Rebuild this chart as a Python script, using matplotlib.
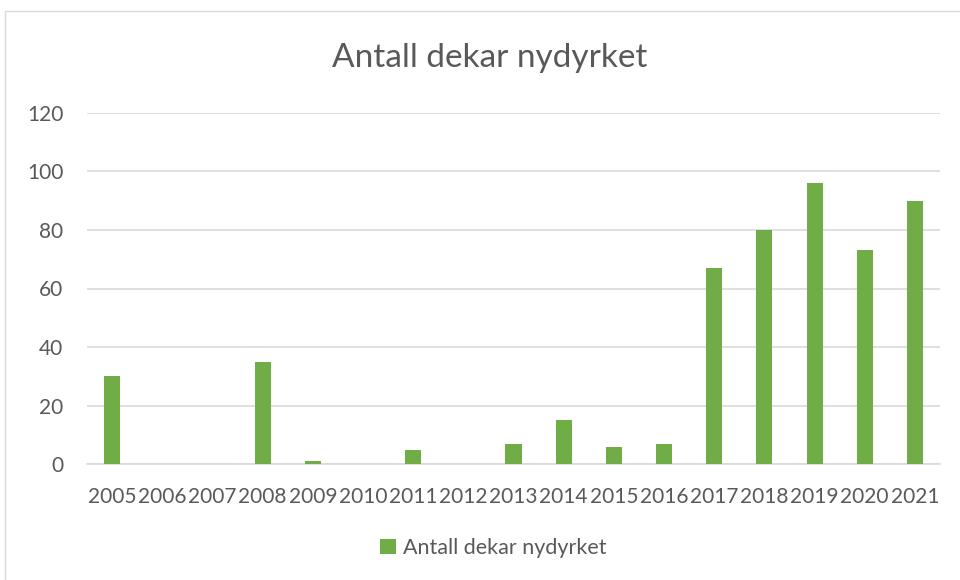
import matplotlib.pyplot as plt
from matplotlib.patches import Rectangle

years = ['2005', '2006', '2007', '2008', '2009', '2010', '2011', '2012', '2013',
         '2014', '2015', '2016', '2017', '2018', '2019', '2020', '2021']
dekar = [30, 0, 0, 35, 1, 0, 5, 0, 7, 15, 6, 7, 67, 80, 96, 73, 90]
series_name = 'Antall dekar nydyrket'

bar_color = '#70ad47'
text_color = '#595959'
grid_color = '#d9d9d9'

plt.rcParams['font.family'] = ['Lato', 'DejaVu Sans']

W, H = 960, 580
fig = plt.figure(figsize=(W / 100, H / 100), dpi=100)

# chart area border
fig.patches.append(Rectangle((5 / W, -0.01), 1.2, (H - 11) / H + 0.01,
                             transform=fig.transFigure, fill=False,
                             edgecolor='#d9d9d9', linewidth=1))

ax = fig.add_axes([87 / W, (H - 464.3) / H, (940 - 87) / W, (464.3 - 112.7) / H])
x = range(len(years))
ax.bar(x, dekar, width=0.32, color=bar_color, label=series_name, zorder=3)

ax.set_xlim(-0.5, len(years) - 0.5)
ax.set_ylim(0, 120)
ax.set_yticks(range(0, 121, 20))
ax.set_xticks(list(x))
ax.set_xticklabels(years)
ax.yaxis.grid(True, color=grid_color, linewidth=1.2, zorder=0)
for s in ['top', 'right', 'left']:
    ax.spines[s].set_visible(False)
ax.spines['bottom'].set_color(grid_color)
ax.spines['bottom'].set_linewidth(1.2)
ax.tick_params(length=0, labelsize=15, colors=text_color, pad=16)
ax.tick_params(axis='y', pad=17)

fig.text(490 / W, 1 - 58 / H, series_name, ha='center', va='center',
         fontsize=24, color=text_color)

fig.legend(loc='center', bbox_to_anchor=(493 / W, 1 - 548 / H), frameon=False,
           fontsize=15.5, labelcolor=text_color, handlelength=0.75, handleheight=0.75,
           handletextpad=0.3)

fig.savefig('out.png', dpi=100)
